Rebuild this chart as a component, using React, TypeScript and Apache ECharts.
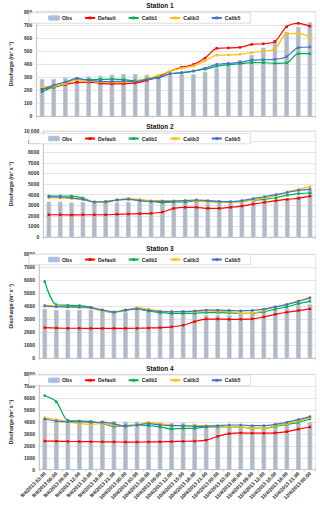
import React, { useEffect, useRef } from "react";
import * as echarts from "echarts";

const timeLabels = [
  "9/4/2013 03:00", "9/4/2013 06:00", "9/4/2013 09:00", "9/4/2013 12:00",
  "9/4/2013 15:00", "9/4/2013 18:00", "9/4/2013 21:00", "10/4/2013 00:00",
  "10/4/2013 03:00", "10/4/2013 06:00", "10/4/2013 09:00", "10/4/2013 12:00",
  "10/4/2013 15:00", "10/4/2013 18:00", "10/4/2013 21:00", "11/4/2013 00:00",
  "11/4/2013 03:00", "11/4/2013 06:00", "11/4/2013 09:00", "11/4/2013 12:00",
  "11/4/2013 15:00", "11/4/2013 18:00", "11/4/2013 21:00", "12/4/2013 00:00",
];

const seriesNames = ["Obs", "Default", "Calib1", "Calib3", "Calib5"];
const stationTitles = ["Station 1", "Station 2", "Station 3", "Station 4"];
const yMax = [800, 10000, 8000, 8000];
const yInterval = [100, 1000, 1000, 1000];

// Station 1
const s1Obs = [285, 285, 295, 300, 305, 310, 318, 323, 323, 318, 318, 315, 321, 321, 341, 367, 392, 430, 469, 525, 583, 647, 683, 718];
const s1Default = [208, 222, 243, 260, 262, 252, 248, 250, 255, 275, 305, 345, 375, 396, 445, 520, 523, 527, 550, 555, 572, 685, 711, 690];
const s1Calib1 = [188, 225, 250, 282, 280, 282, 284, 280, 273, 285, 300, 325, 332, 346, 360, 382, 395, 402, 410, 410, 405, 408, 479, 479];
const s1Calib3 = [226, 230, 250, 280, 268, 262, 260, 262, 268, 290, 312, 345, 368, 385, 424, 467, 469, 474, 487, 499, 515, 630, 634, 606];
const s1Calib5 = [205, 238, 262, 290, 275, 267, 265, 268, 265, 282, 293, 325, 334, 346, 368, 397, 405, 412, 430, 432, 436, 456, 525, 530];

// Station 2
const s2Obs = [3330, 3330, 3250, 3300, 3250, 3260, 3260, 3300, 3300, 3300, 3180, 3270, 3400, 3450, 3180, 3250, 3230, 3400, 3600, 3450, 3500, 3550, 3900, 4400];
const s2Default = [2100, 2100, 2080, 2100, 2100, 2100, 2140, 2170, 2200, 2230, 2360, 2700, 2800, 2800, 2700, 2700, 2800, 2920, 3100, 3270, 3430, 3550, 3650, 3850];
const s2Calib1 = [3870, 3870, 3860, 3680, 3300, 3360, 3490, 3610, 3430, 3360, 3240, 3300, 3300, 3400, 3360, 3300, 3300, 3360, 3480, 3550, 3700, 3950, 4100, 4150];
const s2Calib3 = [3680, 3680, 3620, 3550, 3300, 3300, 3490, 3620, 3550, 3430, 3430, 3430, 3430, 3400, 3300, 3300, 3240, 3360, 3490, 3700, 3900, 4250, 4500, 4750];
const s2Calib5 = [3800, 3760, 3700, 3550, 3300, 3300, 3490, 3550, 3430, 3360, 3360, 3360, 3430, 3490, 3430, 3360, 3330, 3430, 3620, 3800, 4000, 4200, 4400, 4500];

// Station 3
const s3Obs = [3800, 3720, 3720, 3720, 3720, 3680, 3560, 3560, 3700, 3620, 3600, 3560, 3700, 3640, 3330, 3330, 3330, 3460, 3590, 3640, 3720, 3850, 4100, 4150];
const s3Default = [2360, 2330, 2310, 2310, 2300, 2300, 2300, 2300, 2310, 2330, 2360, 2420, 2540, 2820, 3020, 3020, 3000, 3000, 3030, 3180, 3380, 3540, 3670, 3800];
const s3Calib1 = [5900, 4120, 4080, 4050, 3920, 3640, 3540, 3720, 3800, 3640, 3520, 3450, 3460, 3460, 3520, 3520, 3490, 3450, 3460, 3580, 3780, 3950, 4200, 4380];
const s3Calib3 = [4100, 4020, 3950, 3900, 3850, 3640, 3560, 3640, 3900, 3780, 3640, 3600, 3590, 3590, 3640, 3600, 3600, 3450, 3460, 3700, 3950, 4150, 4420, 4700];
const s3Calib5 = [4020, 3970, 3950, 3950, 3900, 3720, 3560, 3700, 3800, 3680, 3600, 3580, 3590, 3640, 3700, 3700, 3680, 3650, 3680, 3780, 3960, 4130, 4380, 4630];

// Station 4
const s4Obs = [4250, 4140, 4140, 4140, 4140, 4140, 4080, 4030, 4030, 3970, 3920, 3920, 3920, 3860, 3690, 3640, 3580, 3640, 3640, 3580, 3750, 3860, 3920, 4000];
const s4Default = [2400, 2390, 2370, 2360, 2350, 2340, 2330, 2320, 2320, 2330, 2340, 2360, 2380, 2400, 2480, 2800, 3020, 3080, 3060, 3060, 3080, 3190, 3400, 3580];
const s4Calib1 = [6210, 5700, 4140, 4080, 4030, 3860, 3640, 3690, 3750, 3690, 3580, 3410, 3470, 3470, 3580, 3580, 3580, 3580, 3470, 3470, 3640, 3800, 3970, 4250];
const s4Calib3 = [4360, 4200, 4030, 3860, 3800, 3860, 3750, 3640, 3750, 3970, 3860, 3750, 3690, 3690, 3690, 3640, 3580, 3580, 3470, 3470, 3690, 3860, 4080, 4360];
const s4Calib5 = [4250, 4080, 4030, 4030, 3970, 3970, 3860, 3640, 3750, 3860, 3750, 3690, 3690, 3640, 3640, 3690, 3750, 3750, 3690, 3690, 3800, 3970, 4200, 4450];

const stationData = [
  [s1Obs, s1Default, s1Calib1, s1Calib3, s1Calib5],
  [s2Obs, s2Default, s2Calib1, s2Calib3, s2Calib5],
  [s3Obs, s3Default, s3Calib1, s3Calib3, s3Calib5],
  [s4Obs, s4Default, s4Calib1, s4Calib3, s4Calib5],
];

const lineColors = ["#ff0000", "#00b050", "#ffc000", "#4472c4"];

const gridTops = [11.7, 131, 254.3, 374.3];
const gridHeights = [104.6, 106, 104, 95.4];
const titleTops = [2, 123, 244.5, 365];
const legendTops = [12.7, 133.3, 254.3, 375];
const FONT = "'Liberation Sans', Arial, sans-serif";

export default function App() {
  const ref = useRef<HTMLDivElement>(null);
  useEffect(() => {
    if (!ref.current) return;
    const chart = echarts.init(ref.current, null, { renderer: "svg" });
    const grids: any[] = [];
    const xAxes: any[] = [];
    const yAxes: any[] = [];
    const titles: any[] = [];
    const legends: any[] = [];
    const series: any[] = [];
    for (let i = 0; i < 4; i++) {
      grids.push({
        left: 29,
        right: 4.3,
        top: gridTops[i],
        height: gridHeights[i],
        show: true,
        borderColor: "#d9d9d9",
        borderWidth: 0.8,
        backgroundColor: "#fff",
      });
      titles.push({
        text: stationTitles[i],
        left: "center",
        top: titleTops[i],
        padding: 0,
        textStyle: { fontSize: 6.5, fontWeight: "bold", color: "#111", fontFamily: FONT },
      });
      legends.push({
        data: seriesNames,
        left: 29,
        top: legendTops[i],
        padding: [2.5, 10, 2.5, 19],
        itemGap: 12,
        itemWidth: 10,
        itemHeight: 3.5,
        backgroundColor: "#fff",
        borderColor: "#c8c8c8",
        borderWidth: 0.6,
        textStyle: { fontSize: 5.2, fontWeight: "bold", color: "#222", fontFamily: FONT, padding: [0, 0, 0, -2] },
      });
      xAxes.push({
        type: "category",
        gridIndex: i,
        data: timeLabels,
        boundaryGap: true,
        axisLine: { lineStyle: { color: "#bfbfbf", width: 0.8 } },
        axisTick: { show: true, length: 2, lineStyle: { color: "#bfbfbf", width: 0.6 } },
        axisLabel:
          i === 3
            ? { show: true, rotate: 45, fontSize: 5, fontWeight: "bold", color: "#222", fontFamily: FONT, margin: 3, interval: 0 }
            : { show: false },
      });
      yAxes.push({
        type: "value",
        gridIndex: i,
        min: 0,
        max: yMax[i],
        interval: yInterval[i],
        name: "Discharge (m³ s⁻¹)",
        nameLocation: "middle",
        nameGap: 15,
        nameRotate: 90,
        nameTextStyle: { fontSize: 5.2, fontWeight: "bold", color: "#222", fontFamily: FONT },
        axisLine: { show: true, lineStyle: { color: "#bfbfbf", width: 0.8 } },
        axisTick: { show: false },
        axisLabel: {
          fontSize: 5,
          fontWeight: "bold",
          color: "#333",
          fontFamily: FONT,
          margin: 4,
          formatter: (v: number) => (v === 10000 ? "10 000" : String(v)),
        },
        splitLine: { show: true, lineStyle: { color: "#d9d9d9", width: 0.7 } },
      });
      const d = stationData[i];
      series.push({
        name: "Obs",
        type: "bar",
        xAxisIndex: i,
        yAxisIndex: i,
        data: d[0],
        barWidth: 4.5,
        itemStyle: { color: "#b8b8b8", borderColor: "#a6c3e8", borderWidth: 0.8 },
        z: 1,
      });
      for (let k = 1; k < 5; k++) {
        series.push({
          name: seriesNames[k],
          type: "line",
          xAxisIndex: i,
          yAxisIndex: i,
          data: d[k],
          smooth: 0.3,
          symbol: "rect",
          symbolSize: 2.5,
          showSymbol: true,
          lineStyle: { color: lineColors[k - 1], width: 1.2 },
          itemStyle: { color: lineColors[k - 1] },
          z: 2 + k,
        });
      }
    }
    chart.setOption({
      animation: false,
      backgroundColor: "#fff",
      title: titles,
      legend: legends,
      grid: grids,
      xAxis: xAxes,
      yAxis: yAxes,
      series,
    });
    return () => chart.dispose();
  }, []);
  return (
    <div
      ref={ref}
      style={{ position: "fixed", left: 0, top: 0, width: 320, height: 507, background: "#fff" }}
    />
  );
}
